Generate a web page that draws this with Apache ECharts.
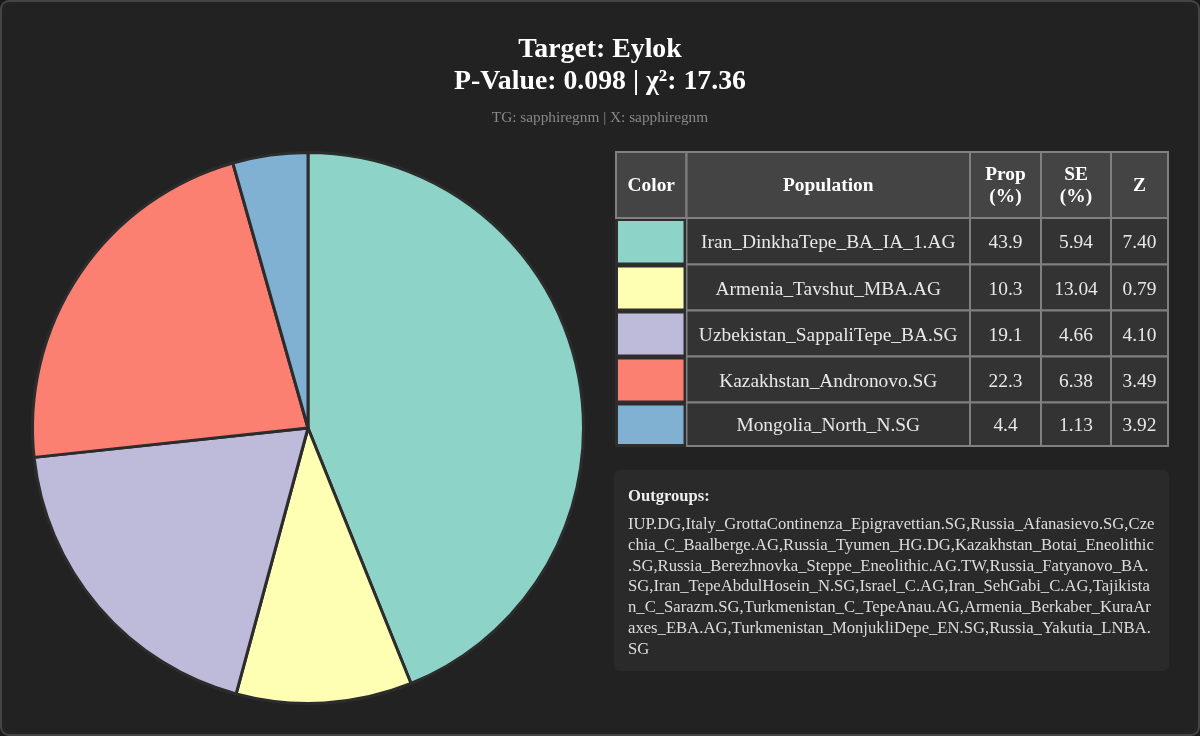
<!DOCTYPE html>
<html><head><meta charset="utf-8">
<style>html,body{margin:0;padding:0;background:#1a1a1a;width:1200px;height:736px;overflow:hidden}#c{width:1200px;height:736px}</style>
<script src="https://cdn.jsdelivr.net/npm/echarts@6/dist/echarts.min.js"></script>
</head><body><div id="c"></div>
<script>
const populations = ['Iran_DinkhaTepe_BA_IA_1.AG','Armenia_Tavshut_MBA.AG','Uzbekistan_SappaliTepe_BA.SG','Kazakhstan_Andronovo.SG','Mongolia_North_N.SG'];
const prop = [43.9,10.3,19.1,22.3,4.4];
const se = ['5.94','13.04','4.66','6.38','1.13'];
const z = ['7.40','0.79','4.10','3.49','3.92'];
const colors = ['#8dd3c7','#ffffb3','#bebada','#fb8072','#80b1d3'];
const headers = ['Color','Population','Prop\n(%)','SE\n(%)','Z'];
const outgroupLines = [
 'IUP.DG,Italy_GrottaContinenza_Epigravettian.SG,Russia_Afanasievo.SG,Cze',
 'chia_C_Baalberge.AG,Russia_Tyumen_HG.DG,Kazakhstan_Botai_Eneolithic',
 '.SG,Russia_Berezhnovka_Steppe_Eneolithic.AG.TW,Russia_Fatyanovo_BA.',
 'SG,Iran_TepeAbdulHosein_N.SG,Israel_C.AG,Iran_SehGabi_C.AG,Tajikista',
 'n_C_Sarazm.SG,Turkmenistan_C_TepeAnau.AG,Armenia_Berkaber_KuraAr',
 'axes_EBA.AG,Turkmenistan_MonjukliDepe_EN.SG,Russia_Yakutia_LNBA.',
 'SG'];
const F = '"Liberation Serif","Times New Roman",serif';
const colX = [616,686.5,970,1041,1111,1168];
const rowY = [152,218,264.5,310.5,356.5,402.5,446];
const g = [];
g.push({type:'rect',z:0,shape:{x:1,y:1,width:1198,height:734,r:8},style:{fill:'#222222',stroke:'#444444',lineWidth:2}});
function txt(x,y,s,size,fill,weight,align,lh){
  g.push({type:'text',z:5,x:x,y:y,style:{text:s,font:(weight||'normal')+' '+size+'px '+F,fontSize:size,fontWeight:weight||'normal',fontFamily:F,fill:fill,align:align||'center',verticalAlign:'middle',lineHeight:lh||undefined}});
}
function cell(i,r,fill){
  g.push({type:'rect',z:2,shape:{x:colX[i],y:rowY[r],width:colX[i+1]-colX[i],height:rowY[r+1]-rowY[r]},style:{fill:fill,stroke:'#808080',lineWidth:2}});
}
headers.forEach((h,i)=>{cell(i,0,'#444444');txt((colX[i]+colX[i+1])/2,(rowY[0]+rowY[1])/2+1,h,19.4,'#ffffff','bold','center',22);});
populations.forEach((p,r)=>{
  const vals=[null,p,prop[r].toFixed(1),se[r],z[r]];
  vals.forEach((v,i)=>{
    if(i===0){
      g.push({type:'rect',z:3,shape:{x:colX[0]-1,y:rowY[r+1]+1,width:colX[1]-colX[0]+0.5,height:rowY[r+2]-rowY[r+1]},style:{fill:'#2e2e2e'}});
      g.push({type:'rect',z:4,shape:{x:618,y:rowY[r+1]+3,width:65.5,height:rowY[r+2]-rowY[r+1]-5},style:{fill:colors[r]}});
    } else {
      cell(i,r+1,'#333333');
      txt((colX[i]+colX[i+1])/2,(rowY[r+1]+rowY[r+2])/2+2,v,19.4,'#e8e8e8');
    }
  });
});
g.push({type:'rect',z:1,shape:{x:614,y:470,width:555,height:201,r:6},style:{fill:'#2a2a2a'}});
txt(628,497,'Outgroups:',16.6,'#eeeeee','bold','left');
outgroupLines.forEach((l,i)=>txt(628,525+i*20.7,l,16.66,'#dddddd','normal','left'));

const chart = echarts.init(document.getElementById('c'),null,{renderer:'canvas'});
chart.setOption({
  backgroundColor:'#1a1a1a',animation:false,
  title:[
   {text:'Target: Eylok',left:595,top:31,textAlign:'center',textStyle:{fontFamily:F,fontSize:27.8,fontWeight:'bold',color:'#ffffff'}},
   {text:'P-Value: 0.098 | χ²: 17.36',left:595,top:63,textAlign:'center',textStyle:{fontFamily:F,fontSize:27.8,fontWeight:'bold',color:'#ffffff'}},
   {text:'TG: sapphiregnm | X: sapphiregnm',left:595,top:105,textAlign:'center',textStyle:{fontFamily:F,fontSize:15.3,fontWeight:'normal',color:'#888888'}}
  ],
  graphic:g,
  series:[{type:'pie',z:4,center:[308,428],radius:[0,275.5],startAngle:90,clockwise:true,label:{show:false},labelLine:{show:false},silent:true,
    itemStyle:{borderColor:'#2c2c2c',borderWidth:3},
    data:populations.map((n,i)=>({name:n,value:prop[i],itemStyle:{color:colors[i]}}))}]
});
</script></body></html>
